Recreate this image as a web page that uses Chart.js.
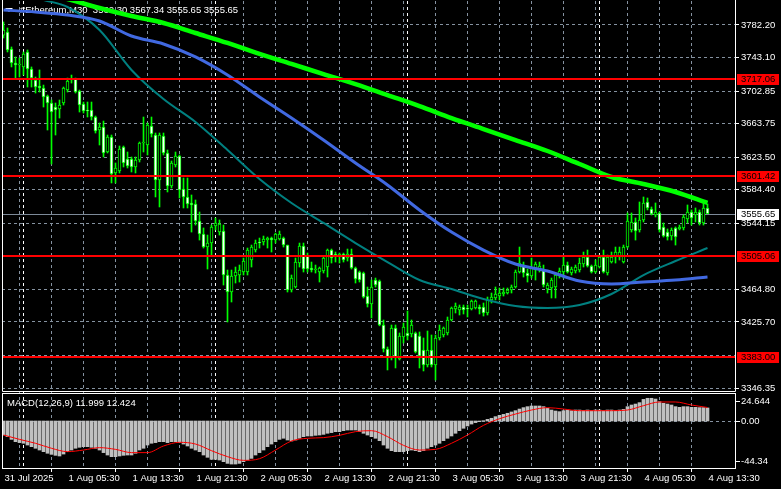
<!DOCTYPE html>
<html>
<head>
<meta charset="utf-8">
<script src="https://cdn.jsdelivr.net/npm/chart.js@4.4.1/dist/chart.umd.min.js"></script>
<style>
  html, body { margin: 0; padding: 0; background: #000; }
  canvas { display: block; }
</style>
</head>
<body>
<canvas id="myChart" width="781" height="489"></canvas>
<script>
// ETHUSD M30, 31 Jul 21:30 .. 4 Aug 13:30 (one value per bar)
const candleOpen = [
  3770.0, 3773.8, 3753.4, 3736.6, 3734.2, 3731.8, 3749.8, 3729.4, 3716.1, 3708.9,
  3706.5, 3696.9, 3688.5, 3683.7, 3681.3, 3688.5, 3704.1, 3716.1, 3717.3, 3702.9,
  3687.3, 3680.1, 3680.1, 3671.7, 3656.1, 3659.7, 3629.7, 3647.7, 3604.5, 3606.9,
  3635.7, 3621.3, 3621.3, 3611.7, 3620.1, 3640.5, 3638.1, 3660.9, 3650.1, 3596.1,
  3648.9, 3628.5, 3588.9, 3614.1, 3624.9, 3585.3, 3575.7, 3568.5, 3567.3, 3546.9,
  3531.2, 3515.6, 3520.4, 3540.9, 3533.6, 3534.8, 3482.0, 3461.6, 3480.8, 3482.0,
  3485.6, 3485.6, 3500.0, 3512.0, 3521.6, 3521.6, 3524.0, 3526.4, 3524.0, 3525.2,
  3526.4, 3518.0, 3464.0, 3467.6, 3496.4, 3516.8, 3504.8, 3490.4, 3488.0, 3485.6,
  3486.8, 3491.6, 3512.0, 3507.2, 3504.8, 3507.2, 3502.4, 3507.2, 3490.4, 3485.6,
  3484.4, 3456.8, 3447.2, 3476.0, 3474.8, 3422.0, 3393.2, 3382.4, 3418.4, 3381.2,
  3407.6, 3412.4, 3411.2, 3412.4, 3408.8, 3392.0, 3374.0, 3392.0, 3374.0, 3406.4,
  3410.0, 3412.4, 3428.0, 3441.2, 3440.0, 3443.6, 3442.4, 3441.2, 3442.4, 3443.6,
  3443.6, 3436.4, 3452.0, 3454.4, 3456.8, 3459.2, 3460.4, 3464.0, 3467.6, 3485.6,
  3494.0, 3484.4, 3480.8, 3488.0, 3488.0, 3488.0, 3465.2, 3466.4, 3467.6, 3480.8,
  3485.6, 3494.0, 3484.4, 3486.8, 3488.0, 3495.2, 3503.6, 3492.8, 3485.6, 3491.6,
  3503.6, 3484.4, 3497.6, 3503.6, 3503.6, 3497.6, 3515.6, 3536.1, 3545.7, 3536.1,
  3548.1, 3569.7, 3561.3, 3554.1, 3556.5, 3539.7, 3533.6, 3528.8, 3538.5, 3537.3,
  3538.5, 3549.3, 3557.7, 3554.1, 3557.7, 3544.5, 3562.30
];
const candleHigh = [
  3785.8, 3778.6, 3755.8, 3743.8, 3742.6, 3749.8, 3752.2, 3731.8, 3719.7, 3728.2,
  3710.1, 3698.1, 3692.1, 3688.5, 3692.1, 3707.7, 3718.5, 3722.1, 3718.5, 3704.1,
  3689.7, 3689.7, 3689.7, 3672.9, 3664.5, 3666.9, 3650.1, 3650.1, 3616.5, 3636.9,
  3636.9, 3629.7, 3623.7, 3623.7, 3641.7, 3671.7, 3664.5, 3671.7, 3652.5, 3652.5,
  3652.5, 3632.1, 3618.9, 3629.7, 3626.1, 3598.5, 3598.5, 3578.1, 3572.1, 3557.7,
  3538.5, 3530.0, 3542.0, 3550.5, 3548.1, 3542.0, 3488.0, 3488.0, 3491.6, 3494.0,
  3502.4, 3514.4, 3518.0, 3524.0, 3526.4, 3528.8, 3527.6, 3527.6, 3532.4, 3534.8,
  3527.6, 3518.0, 3482.0, 3502.4, 3520.4, 3520.4, 3508.4, 3497.6, 3494.0, 3491.6,
  3503.6, 3513.2, 3513.2, 3509.6, 3508.4, 3508.4, 3513.2, 3513.2, 3491.6, 3486.8,
  3485.6, 3467.6, 3476.0, 3478.4, 3476.0, 3428.0, 3395.6, 3422.0, 3422.0, 3412.4,
  3424.4, 3438.8, 3428.0, 3413.6, 3413.6, 3406.4, 3414.8, 3410.0, 3410.0, 3422.0,
  3419.6, 3431.6, 3443.6, 3448.4, 3446.0, 3446.0, 3446.0, 3452.0, 3452.0, 3446.0,
  3448.4, 3455.6, 3460.4, 3467.6, 3466.4, 3466.4, 3466.4, 3470.0, 3488.0, 3515.6,
  3497.6, 3489.2, 3502.4, 3497.6, 3497.6, 3494.0, 3472.4, 3478.4, 3484.4, 3490.4,
  3503.6, 3497.6, 3491.6, 3494.0, 3502.4, 3509.6, 3512.0, 3494.0, 3500.0, 3506.0,
  3512.0, 3506.0, 3509.6, 3515.6, 3515.6, 3518.0, 3556.5, 3556.5, 3550.5, 3569.7,
  3575.7, 3574.5, 3563.7, 3568.5, 3557.7, 3544.5, 3537.3, 3538.5, 3539.7, 3542.0,
  3554.1, 3566.1, 3560.1, 3562.5, 3560.1, 3568.5, 3567.34
];
const candleLow = [
  3766.6, 3749.8, 3731.8, 3718.5, 3719.7, 3722.1, 3707.7, 3707.7, 3700.5, 3701.7,
  3683.7, 3656.1, 3615.3, 3650.1, 3670.5, 3686.1, 3701.7, 3712.5, 3700.5, 3677.7,
  3676.5, 3671.7, 3668.1, 3652.5, 3638.1, 3623.7, 3628.5, 3592.5, 3592.5, 3604.5,
  3611.7, 3610.5, 3605.7, 3604.5, 3617.7, 3629.7, 3626.1, 3647.7, 3575.7, 3563.7,
  3626.1, 3581.7, 3586.5, 3611.7, 3574.5, 3562.5, 3562.5, 3533.6, 3542.0, 3524.0,
  3514.4, 3489.2, 3506.0, 3536.1, 3530.0, 3470.0, 3425.6, 3449.6, 3472.4, 3473.6,
  3482.0, 3482.0, 3491.6, 3509.6, 3514.4, 3518.0, 3514.4, 3509.6, 3520.4, 3524.0,
  3515.6, 3461.6, 3461.6, 3466.4, 3491.6, 3485.6, 3485.6, 3485.6, 3484.4, 3473.6,
  3484.4, 3479.6, 3496.4, 3497.6, 3496.4, 3497.6, 3498.8, 3489.2, 3472.4, 3473.6,
  3454.4, 3443.6, 3430.4, 3467.6, 3421.0, 3389.6, 3368.0, 3380.0, 3370.4, 3380.0,
  3400.4, 3404.0, 3407.6, 3388.4, 3370.4, 3366.8, 3371.6, 3371.6, 3356.0, 3404.0,
  3407.6, 3410.0, 3426.8, 3436.4, 3434.0, 3435.2, 3431.6, 3440.0, 3441.2, 3435.2,
  3432.8, 3434.0, 3448.4, 3452.0, 3452.0, 3456.8, 3459.2, 3460.4, 3466.4, 3484.4,
  3479.6, 3473.6, 3478.4, 3476.0, 3485.6, 3467.6, 3460.4, 3454.4, 3454.4, 3478.4,
  3478.4, 3484.4, 3482.0, 3484.4, 3485.6, 3491.6, 3491.6, 3484.4, 3484.4, 3490.4,
  3484.4, 3482.0, 3496.4, 3496.4, 3500.0, 3496.4, 3514.4, 3533.6, 3524.0, 3533.6,
  3545.7, 3560.1, 3554.1, 3551.7, 3533.6, 3527.6, 3524.0, 3524.0, 3518.0, 3536.1,
  3536.1, 3544.5, 3542.0, 3545.7, 3542.0, 3542.0, 3555.65
];
const candleClose = [
  3776.2, 3752.2, 3736.6, 3734.2, 3735.4, 3747.4, 3729.4, 3718.5, 3707.7, 3706.5,
  3695.7, 3688.5, 3677.7, 3680.1, 3686.1, 3706.5, 3714.9, 3717.3, 3701.7, 3686.1,
  3678.9, 3678.9, 3671.7, 3654.9, 3659.7, 3628.5, 3647.7, 3603.3, 3610.5, 3633.3,
  3616.5, 3612.9, 3611.7, 3620.1, 3640.5, 3641.7, 3662.1, 3651.3, 3596.1, 3650.1,
  3628.5, 3588.9, 3616.5, 3624.9, 3584.1, 3575.7, 3567.3, 3566.1, 3546.9, 3531.2,
  3515.6, 3520.4, 3539.7, 3544.5, 3543.3, 3482.0, 3461.6, 3480.8, 3485.6, 3488.0,
  3498.8, 3512.0, 3515.6, 3520.4, 3520.4, 3525.2, 3526.4, 3524.0, 3531.2, 3531.2,
  3518.0, 3464.0, 3478.4, 3497.6, 3516.8, 3489.2, 3489.2, 3488.0, 3489.2, 3490.4,
  3502.4, 3512.0, 3502.4, 3504.8, 3507.2, 3500.0, 3507.2, 3490.4, 3477.2, 3476.0,
  3455.6, 3447.2, 3467.6, 3470.0, 3422.0, 3393.2, 3383.6, 3418.4, 3382.4, 3408.8,
  3419.6, 3408.8, 3422.0, 3389.6, 3384.8, 3374.0, 3392.0, 3374.0, 3406.4, 3416.0,
  3418.4, 3428.0, 3442.4, 3444.8, 3443.6, 3440.0, 3441.2, 3450.8, 3450.8, 3441.2,
  3436.4, 3452.0, 3455.6, 3459.2, 3460.4, 3461.6, 3464.0, 3467.6, 3485.6, 3496.4,
  3484.4, 3480.8, 3491.6, 3495.2, 3492.8, 3470.0, 3470.0, 3476.0, 3482.0, 3486.8,
  3494.0, 3485.6, 3489.2, 3491.6, 3496.4, 3503.6, 3492.8, 3485.6, 3494.0, 3503.6,
  3485.6, 3503.6, 3503.6, 3509.6, 3509.6, 3515.6, 3546.9, 3545.7, 3534.8, 3548.1,
  3568.5, 3562.5, 3555.3, 3557.7, 3536.1, 3528.8, 3527.6, 3536.1, 3527.6, 3539.7,
  3551.7, 3557.7, 3550.5, 3557.7, 3544.5, 3562.5, 3555.65
];

// moving averages, read every 8th bar
const maBars = [0, 8, 16, 24, 32, 40, 48, 56, 64, 72, 80, 88, 96, 104, 112, 120, 128, 136, 144, 152, 160, 168, 176];
const maGreen = [3832.6, 3823.0, 3813.4, 3802.6, 3793.0, 3784.6, 3772.6, 3760.6, 3747.4, 3735.4, 3723.3, 3711.3,
  3698.1, 3684.9, 3670.5, 3657.3, 3644.1, 3630.9, 3615.3, 3599.7, 3591.3, 3581.7, 3568.5];
const maBlue = [3800.2, 3797.8, 3794.2, 3787.0, 3769.0, 3759.4, 3743.8, 3722.1, 3695.7, 3670.5, 3644.1, 3616.5,
  3590.1, 3560.1, 3533.6, 3512.0, 3495.2, 3486.8, 3474.8, 3471.2, 3473.6, 3476.0, 3479.6];
const maTeal = [3842.2, 3815.8, 3803.8, 3776.2, 3728.2, 3693.3, 3665.7, 3632.1, 3597.3, 3568.5, 3544.5, 3520.4,
  3497.6, 3476.0, 3465.2, 3453.2, 3444.8, 3442.4, 3446.0, 3459.2, 3482.0, 3498.8, 3514.4];

// MACD(12,26,9) histogram per bar, signal every 4th bar
const macdMain = [
  -12.9, -14.4, -16.9, -19.0, -19.9, -20.5, -22.1, -23.6, -25.1, -26.7,
  -28.2, -29.7, -30.7, -31.6, -32.2, -30.4, -28.2, -26.7, -25.1, -24.2,
  -23.6, -23.6, -24.2, -25.1, -26.7, -29.1, -31.3, -32.8, -32.8, -32.2,
  -31.6, -31.3, -31.3, -29.7, -26.7, -25.1, -22.1, -20.5, -19.9, -19.0,
  -19.0, -19.9, -19.0, -19.0, -19.9, -21.2, -23.0, -25.1, -26.7, -28.2,
  -31.3, -33.4, -35.3, -35.3, -35.9, -37.4, -39.0, -39.6, -39.6, -39.0,
  -37.4, -35.9, -34.4, -31.3, -29.1, -26.7, -23.6, -21.2, -19.0, -16.9,
  -15.9, -17.5, -18.4, -17.5, -15.9, -14.4, -13.8, -13.8, -13.2, -12.9,
  -12.3, -11.3, -10.7, -9.8, -9.8, -8.9, -8.3, -8.3, -8.3, -9.8,
  -11.3, -12.9, -14.4, -15.9, -18.1, -22.1, -25.1, -27.3, -28.2, -28.2,
  -28.2, -27.3, -26.7, -27.3, -28.2, -27.3, -25.1, -23.6, -22.1, -20.5,
  -18.1, -15.9, -13.8, -11.3, -8.9, -6.7, -4.6, -2.8, -1.5, -0.6,
  0.3, 1.5, 2.5, 4.0, 5.2, 6.1, 7.1, 8.3, 9.5, 11.0,
  12.3, 13.2, 13.8, 13.8, 13.8, 13.2, 11.7, 10.1, 9.2, 8.6,
  9.5, 10.1, 9.5, 10.1, 10.1, 9.8, 10.1, 9.5, 10.1, 10.1,
  9.5, 10.1, 10.1, 9.5, 10.1, 10.7, 13.2, 14.7, 15.6, 16.9,
  19.9, 20.9, 20.9, 20.2, 17.8, 16.3, 15.6, 14.7, 13.2, 12.6,
  13.2, 13.2, 12.6, 12.6, 12.3, 12.3, 11.999
];
const signalBars = [0, 4, 8, 12, 16, 20, 24, 28, 32, 36, 40, 44, 48, 52, 56, 60, 64, 68, 72, 76, 80, 84, 88,
  92, 96, 100, 104, 108, 112, 116, 120, 124, 128, 132, 136, 140, 144, 148, 152, 156, 160, 164, 168, 172, 176];
const macdSignal = [-12.9, -16.9, -20.5, -25.1, -28.2, -26.7, -24.5, -26.1, -29.1, -29.1, -23.0, -19.6, -21.2,
  -27.3, -32.8, -36.2, -34.7, -26.7, -18.4, -15.9, -15.3, -13.2, -9.8, -8.9, -14.4, -22.4, -26.7, -26.1,
  -20.5, -12.9, -4.0, 2.1, 6.4, 10.1, 12.3, 11.0, 9.5, 9.5, 9.5, 10.1, 14.1, 17.5, 17.5, 14.7, 12.424];

// axes and levels
const timeLabels = ["31 Jul 2025", "1 Aug 05:30", "1 Aug 13:30", "1 Aug 21:30", "2 Aug 05:30", "2 Aug 13:30",
  "2 Aug 21:30", "3 Aug 05:30", "3 Aug 13:30", "3 Aug 21:30", "4 Aug 05:30", "4 Aug 13:30"];
const gridBars = [0, 8, 16, 24, 32, 40, 48, 56, 64, 72, 80, 88, 96, 104, 112, 120, 128, 136, 144, 152, 160, 168, 176];
const daySeparators = [5, 53, 101, 149];
const priceTicks = [3782.20, 3743.10, 3702.85, 3663.75, 3623.50, 3584.40, 3544.15, 3505.05, 3464.80, 3425.70, 3385.45, 3346.35];
const hiddenTicks = [3505.05, 3385.45];
const levels = [3717.06, 3601.42, 3505.06, 3383.00];
const bid = 3555.65;
const macdScaleLabels = [24.644, 0, -44.34];
const titleText = "#Ethereum,M30  3562.30 3567.34 3555.65 3555.65";
const macdText = "MACD(12,26,9) 11.999 12.424";

const FONT = "'Liberation Sans', Arial, sans-serif";
const FSIZE = 9.5;
const GRID = "#8592a0";
const LIME = "#00ff00";

Chart.defaults.font.family = FONT;
Chart.defaults.font.size = FSIZE;
Chart.defaults.color = "#ffffff";

const bars = candleOpen.map((_, i) => i);

const mt4Panels = {
  id: "mt4Panels",
  beforeDraw(chart) {
    const ctx = chart.ctx;
    ctx.save();
    ctx.fillStyle = "#000";
    ctx.fillRect(0, 0, chart.width, chart.height);
    ctx.restore();
  },
  beforeDatasetsDraw(chart) {
    const { ctx, chartArea: a, scales } = chart;
    ctx.save();
    ctx.lineWidth = 1;
    ctx.setLineDash([3, 3]);
    // period separators
    ctx.strokeStyle = "#ffffff";
    daySeparators.forEach((b) => {
      const px = Math.floor(scales.x.getPixelForValue(b)) + 0.5;
      ctx.beginPath();
      ctx.moveTo(px, a.top);
      ctx.lineTo(px, a.bottom);
      ctx.stroke();
    });
    // macd zero line
    ctx.strokeStyle = GRID;
    const z = Math.round(scales.ym.getPixelForValue(0)) + 0.5;
    ctx.beginPath();
    ctx.moveTo(a.left, z);
    ctx.lineTo(a.right, z);
    ctx.stroke();
    ctx.setLineDash([]);
    // bid line
    ctx.strokeStyle = "#7d8a99";
    const by = Math.round(scales.y.getPixelForValue(bid)) + 0.5;
    ctx.beginPath();
    ctx.moveTo(a.left, by);
    ctx.lineTo(a.right, by);
    ctx.stroke();
    // texts
    ctx.fillStyle = "#ffffff";
    ctx.beginPath();
    ctx.moveTo(5, 8);
    ctx.lineTo(13, 8);
    ctx.lineTo(9, 12);
    ctx.closePath();
    ctx.fill();
    ctx.font = FSIZE + "px " + FONT;
    ctx.textBaseline = "middle";
    ctx.textAlign = "left";
    ctx.fillText(titleText, 20, 10);
    ctx.fillText(macdText, 7, 403);
    ctx.restore();
  },
  afterDatasetsDraw(chart) {
    const { ctx, chartArea: a, scales } = chart;
    ctx.save();
    // support / resistance lines
    ctx.fillStyle = "#ff0000";
    levels.forEach((v) => {
      const py = Math.round(scales.y.getPixelForValue(v));
      ctx.fillRect(a.left, py - 1, a.right - a.left, 2);
    });
    // frames
    ctx.strokeStyle = "#ffffff";
    ctx.lineWidth = 1;
    ctx.beginPath();
    ctx.moveTo(2.5, 0);
    ctx.lineTo(2.5, 391.5);
    ctx.lineTo(735.5, 391.5);
    ctx.moveTo(735.5, 0);
    ctx.lineTo(735.5, 391.5);
    ctx.stroke();
    ctx.strokeRect(2.5, 393.5, 733, 75);
    // right side labels
    ctx.font = FSIZE + "px " + FONT;
    ctx.textBaseline = "middle";
    ctx.textAlign = "left";
    const box = (v, bg, txt) => {
      const py = Math.round(scales.y.getPixelForValue(v));
      ctx.fillStyle = bg;
      ctx.fillRect(737, py - 5, 42, 11);
      ctx.fillStyle = txt;
      ctx.fillText(v.toFixed(2), 741, py + 0.5);
    };
    levels.forEach((v) => box(v, "#ff0000", "#000000"));
    box(bid, "#ffffff", "#000000");
    // macd scale
    const offs = [7, 0, -8];
    macdScaleLabels.forEach((v, k) => {
      const py = Math.round(scales.ym.getPixelForValue(v)) + offs[k];
      ctx.fillStyle = "#ffffff";
      ctx.fillRect(736, py, 4, 1);
      ctx.fillText(v === 0 ? "0.00" : String(v), 741, py);
    });
    ctx.restore();
  },
};

const makeGraph = () => {
  const chart_ctx = document.getElementById("myChart");
  const data = {
    datasets: [
      {
        type: "line",
        label: "Signal",
        yAxisID: "ym",
        data: signalBars.map((b, k) => ({ x: b, y: macdSignal[k] })),
        borderColor: "#ff0000",
        borderWidth: 1,
        pointRadius: 0,
        cubicInterpolationMode: "monotone",
        clip: 0,
        order: 1,
      },
      {
        type: "line",
        label: "MA green",
        yAxisID: "y",
        data: maBars.map((b, k) => ({ x: b, y: maGreen[k] })),
        borderColor: LIME,
        borderWidth: 4.5,
        pointRadius: 0,
        cubicInterpolationMode: "monotone",
        clip: 0,
        order: 2,
      },
      {
        type: "line",
        label: "MA blue",
        yAxisID: "y",
        data: maBars.map((b, k) => ({ x: b, y: maBlue[k] })),
        borderColor: "#4169e1",
        borderWidth: 3,
        pointRadius: 0,
        cubicInterpolationMode: "monotone",
        clip: 0,
        order: 3,
      },
      {
        type: "line",
        label: "MA teal",
        yAxisID: "y",
        data: maBars.map((b, k) => ({ x: b, y: maTeal[k] })),
        borderColor: "#008080",
        borderWidth: 2,
        pointRadius: 0,
        cubicInterpolationMode: "monotone",
        clip: 0,
        order: 4,
      },
      {
        type: "bar",
        label: "Body",
        yAxisID: "y",
        data: bars.map((i) => ({ x: i, y: [candleOpen[i], candleClose[i]] })),
        backgroundColor: bars.map((i) => (candleClose[i] < candleOpen[i] ? "#ffffff" : "#000000")),
        borderColor: LIME,
        borderWidth: 1,
        borderSkipped: false,
        barThickness: 3,
        grouped: false,
        order: 5,
      },
      {
        type: "bar",
        label: "Wick",
        yAxisID: "y",
        data: bars.map((i) => ({ x: i, y: [candleLow[i], candleHigh[i]] })),
        backgroundColor: LIME,
        barThickness: 1,
        grouped: false,
        order: 6,
      },
      {
        type: "bar",
        label: "MACD",
        yAxisID: "ym",
        data: bars.map((i) => ({ x: i, y: macdMain[i] })),
        backgroundColor: "#c0c0c0",
        barThickness: 3,
        grouped: false,
        order: 7,
      },
    ],
  };
  const config = {
    type: "bar",
    data,
    plugins: [mt4Panels],
    options: {
      responsive: false,
      animation: false,
      devicePixelRatio: 1,
      layout: { padding: { left: 2, top: 1, right: 0, bottom: 0 } },
      plugins: { legend: { display: false }, tooltip: { enabled: false }, title: { display: false } },
      scales: {
        x: {
          type: "linear",
          min: -0.375,
          max: 182.875,
          offset: false,
          afterBuildTicks: (s) => { s.ticks = gridBars.map((v) => ({ value: v })); },
          afterFit: (s) => { s.height = 21; s.paddingLeft = 0; s.paddingRight = 0; },
          grid: {
            color: (c) => (c.tick && c.tick.value > 0 ? GRID : "rgba(0,0,0,0)"),
            tickColor: (c) => (c.tick && c.tick.value % 16 === 0 ? "#ffffff" : "rgba(0,0,0,0)"),
            tickLength: 4,
            borderDash: [3, 3],
          },
          border: { display: false, dash: [3, 3] },
          ticks: {
            autoSkip: false,
            maxRotation: 0,
            minRotation: 0,
            align: "start",
            padding: 1,
            labelOffset: 1,
            color: "#ffffff",
            callback: (v) => (v % 16 === 0 ? timeLabels[v / 16] : ""),
          },
        },
        y: {
          position: "right",
          min: 3250.3,
          max: 3811.0,
          afterBuildTicks: (s) => { s.ticks = priceTicks.map((v) => ({ value: v })); },
          afterFit: (s) => { s.width = 46; s.paddingTop = 0; s.paddingBottom = 0; },
          grid: {
            color: GRID,
            tickColor: (c) => (c.tick && hiddenTicks.includes(c.tick.value) ? "rgba(0,0,0,0)" : "#ffffff"),
            tickLength: 4,
            borderDash: [3, 3],
          },
          border: { display: false, dash: [3, 3] },
          ticks: {
            autoSkip: false,
            padding: 2,
            color: "#ffffff",
            callback: (v) => (hiddenTicks.includes(v) ? "" : v.toFixed(2)),
          },
        },
        ym: {
          display: false,
          min: -43.24,
          max: 386.4,
        },
      },
    },
  };
  return new Chart(chart_ctx, config);
};

makeGraph();
</script>
</body>
</html>
